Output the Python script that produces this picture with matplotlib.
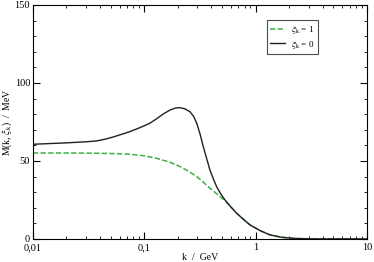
import matplotlib
matplotlib.use("Agg")
import matplotlib.pyplot as plt
from matplotlib.ticker import MultipleLocator, FixedLocator, LogLocator, NullFormatter

plt.rcParams['font.family'] = ['Liberation Serif', 'DejaVu Serif']
plt.rcParams['mathtext.fontset'] = 'stix'

# xi_k = 0 (black, solid)
k0 = [0.01, 0.02, 0.03, 0.037, 0.045, 0.055, 0.0743, 0.0925, 0.1125, 0.13, 0.148,
      0.17, 0.19, 0.2065, 0.23, 0.2574, 0.278, 0.296, 0.318, 0.339, 0.364, 0.389,
      0.418, 0.447, 0.488, 0.531, 0.6, 0.676, 0.78, 0.891, 1.1, 1.35, 1.7, 2.2,
      3.0, 4.5, 10.0]
m0 = [60.7, 61.6, 62.3, 62.8, 64.0, 65.8, 68.8, 71.5, 74.2, 77.2, 80.1,
      82.6, 83.9, 84.2, 83.5, 81.6, 78.5, 74.2, 67.0, 59.2, 51.5, 44.2,
      38.4, 33.5, 28.8, 25.0, 20.5, 16.5, 12.5, 9.0, 5.3, 2.6, 1.1, 0.35,
      0.08, 0.0, 0.0]

# xi_k = 1 (green, dashed), merges with xi_k = 0 above k ~ 0.53 GeV
k1 = [0.01, 0.02, 0.03, 0.04, 0.055, 0.0743, 0.1, 0.129, 0.17, 0.21, 0.25, 0.296,
      0.34, 0.389, 0.435, 0.48, 0.531, 0.6, 0.676, 0.78, 0.891, 1.1, 1.35, 1.7,
      2.2, 3.0, 4.5, 10.0]
m1 = [55.1, 55.1, 55.0, 54.9, 54.7, 54.3, 53.3, 51.7, 49.2, 46.4, 43.4, 40.0,
      36.3, 32.5, 29.7, 27.1, 24.6, 20.5, 16.5, 12.5, 9.0, 5.3, 2.6, 1.1,
      0.35, 0.08, 0.0, 0.0]

fig = plt.figure(figsize=(3.74, 2.62), dpi=100)
ax = fig.add_axes([0.088, 0.088, 0.893, 0.893])

ax.plot(k1, m1, color='#3cb043', lw=1.1, ls=(0, (3.5, 1.5)),
        label=r'$\xi_\mathrm{k}$ = 1')
ax.plot(k0, m0, color='#202020', lw=1.0, label=r'$\xi_\mathrm{k}$ = 0')

ax.set_xscale('log')
ax.set_xlim(0.01, 10)
ax.set_ylim(0, 150)
ax.xaxis.set_major_locator(FixedLocator([0.01, 0.1, 1, 10]))
ax.set_xticklabels(['0,01', '0,1', '1', '10'])
ax.xaxis.set_minor_locator(LogLocator(base=10, subs=range(2, 10)))
ax.xaxis.set_minor_formatter(NullFormatter())
ax.yaxis.set_major_locator(MultipleLocator(50))
ax.yaxis.set_minor_locator(MultipleLocator(10))
ax.tick_params(which='both', direction='in', top=True, right=True, labelsize=7.5)
ax.tick_params(axis='x', pad=3)
ax.tick_params(axis='y', pad=2)
ax.tick_params(which='major', length=5, width=0.8)
ax.tick_params(which='minor', length=2.5, width=0.6)

ax.set_xlabel('k  /  GeV', fontsize=7)
ax.xaxis.set_label_coords(0.5, -0.058)
ax.set_ylabel(r'M(k, $\xi_\mathrm{k}$)  /  MeV', fontsize=7)
ax.yaxis.set_label_coords(-0.056, 0.5)

leg = ax.legend(loc='upper left', bbox_to_anchor=(0.70, 0.935), fontsize=6.5,
                frameon=True, fancybox=False, handlelength=1.6, borderpad=0.4,
                labelspacing=0.3, handletextpad=0.7, borderaxespad=0)
leg.get_frame().set_edgecolor('#202020')
leg.get_frame().set_linewidth(0.8)

fig.savefig('out.png', dpi=100)
